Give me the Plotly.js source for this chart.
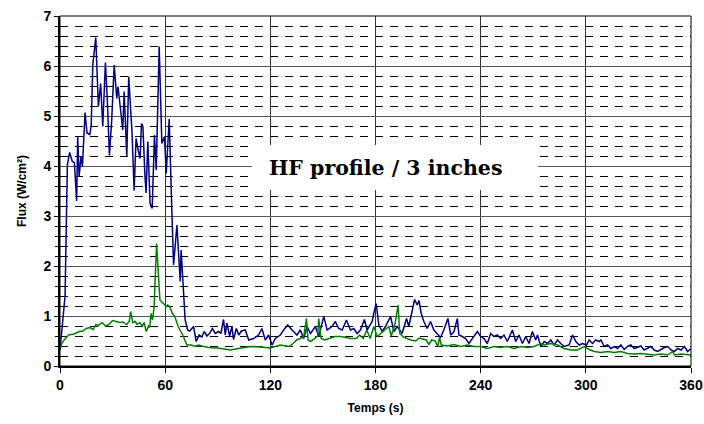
<!DOCTYPE html>
<html>
<head>
<meta charset="utf-8">
<script src="https://cdn.plot.ly/plotly-3.0.1.min.js"></script>
<style>html,body{margin:0;padding:0;background:#fff;}#chart{width:704px;height:424px;}</style>
</head>
<body>
<div id="chart"></div>
<script>
// Blue series (upper profile)
var blueTime = [0, 2.9, 4.2, 5.5, 7.0, 8.2, 9.5, 10.1, 10.9, 12, 12.8, 14.3, 15.4, 17, 17.8, 18.7, 20.4, 21.9, 23.2, 24.4, 25.9, 27, 28.2, 29.5, 30.9, 32.4, 33.1, 34.7, 35.8, 36.6, 38.1, 39.2, 40.4, 41.1, 42.3, 43.4, 44.6, 45.7, 46.5, 47.3, 48.4, 49.1, 50.1, 51.4, 52.6, 53.9, 54.9, 56.6, 58.1, 59.6, 60.6, 62.3, 63.8, 64.8, 66.7, 68.6, 69.1, 71.4, 72.8, 74, 76.2, 77.7, 79.4, 80.9, 82.3, 83.8, 85.3, 86.9, 88.6, 90.5, 91.8, 93.3, 94.3, 95.2, 96.8, 98.1, 99, 100.6, 102, 103.5, 105.7, 107.7, 110.5, 113.3, 115.2, 117.1, 119, 121, 122.9, 125.7, 127.6, 129.9, 132.4, 135.2, 137.1, 139, 141, 142.9, 145.7, 147.6, 150.5, 152.4, 155.2, 157.1, 159, 161, 163.4, 165.7, 167.6, 169.5, 171.4, 173.7, 175.2, 178.1, 179, 180.4, 181.9, 183.8, 185.7, 188.6, 190.5, 192.4, 195.2, 197.7, 199, 200.4, 202.3, 203.8, 204.8, 206.1, 207.6, 209.5, 211.4, 213.3, 215.6, 217.1, 219, 221.3, 222.9, 224.8, 226.7, 227.6, 229.5, 231.4, 233.3, 236.2, 238.1, 240, 241.9, 243.8, 245.7, 247.6, 249.5, 251.4, 253.3, 255.2, 258.1, 260, 261.9, 263.8, 265.7, 267.6, 269.5, 271.4, 272.4, 274.3, 276.2, 278.1, 280, 281.9, 283.8, 285.7, 287.6, 290.5, 292.4, 294.3, 296.2, 298.1, 300.4, 301.9, 303.8, 305.7, 307.6, 308.6, 310.5, 312.4, 314.3, 316.2, 318.1, 320, 321.9, 323.8, 325.7, 327.6, 329.5, 331.4, 333.3, 335.2, 337.1, 339, 341, 342.9, 344.8, 346.7, 348.6, 350.5, 352.4, 354.3, 356.2, 358.1, 360];
var blueFlux = [0.32, 1.4, 4.02, 4.27, 4.09, 4.07, 3.3, 4.58, 3.79, 4.19, 3.99, 5.07, 4.66, 4.63, 4.8, 6.02, 6.57, 5.19, 5.65, 4.79, 6.07, 5.32, 4.21, 4.92, 6.02, 5.35, 5.59, 5.12, 4.72, 5.49, 4.19, 5.79, 5.19, 4.66, 3.51, 4.55, 4.32, 4.15, 4.85, 4.79, 3.85, 3.46, 4.49, 3.25, 3.15, 4.62, 3.92, 6.39, 4.45, 4.59, 3.85, 4.94, 3.12, 2.02, 2.82, 1.69, 2.32, 0.92, 0.72, 0.7, 0.79, 0.49, 0.62, 0.58, 0.69, 0.6, 0.65, 0.75, 0.65, 0.69, 0.65, 0.93, 0.62, 0.86, 0.6, 0.79, 0.53, 0.75, 0.62, 0.7, 0.72, 0.52, 0.55, 0.62, 0.75, 0.52, 0.62, 0.42, 0.55, 0.62, 0.72, 0.82, 0.72, 0.62, 0.72, 0.55, 0.79, 0.65, 0.79, 0.59, 0.99, 0.72, 0.79, 0.89, 0.75, 0.72, 0.92, 0.72, 0.75, 0.65, 0.72, 0.93, 0.72, 0.89, 1.05, 1.25, 0.82, 0.69, 0.79, 0.99, 0.69, 0.79, 0.65, 0.95, 0.79, 1.05, 1.33, 1.22, 1.31, 1.05, 0.89, 0.75, 0.89, 0.72, 0.62, 0.57, 0.72, 0.95, 0.62, 0.69, 0.95, 0.62, 0.59, 0.55, 0.45, 0.59, 0.69, 0.59, 0.55, 0.45, 0.65, 0.59, 0.62, 0.55, 0.62, 0.49, 0.72, 0.49, 0.62, 0.45, 0.59, 0.45, 0.69, 0.52, 0.62, 0.39, 0.49, 0.45, 0.52, 0.42, 0.52, 0.45, 0.39, 0.42, 0.62, 0.49, 0.42, 0.45, 0.42, 0.52, 0.45, 0.52, 0.49, 0.52, 0.39, 0.42, 0.35, 0.39, 0.35, 0.42, 0.33, 0.39, 0.42, 0.35, 0.37, 0.4, 0.32, 0.35, 0.39, 0.32, 0.29, 0.33, 0.37, 0.39, 0.32, 0.29, 0.35, 0.32, 0.39, 0.29, 0.35];

// Green series (lower profile)
var greenTime = [0, 1, 3, 5, 8, 11, 13, 15, 17, 19, 20.5, 22, 24, 26, 28, 30, 32, 34, 36, 38, 39.5, 40.3, 41.5, 43, 44, 45.5, 47, 48, 49.2, 50.5, 51.2, 51.9, 52.8, 53.7, 55.1, 56.2, 57, 59, 60.7, 61.4, 62.5, 64.2, 65.5, 67.4, 69, 70, 72.4, 75, 77, 79, 82, 85, 90, 97, 102, 105, 108.6, 114, 120, 125.7, 131, 133, 135, 137, 139, 140.6, 141.5, 143, 145, 147, 147.6, 149, 151, 154, 157, 160, 163, 166, 169, 171, 173, 175, 177, 179, 181, 184, 187.6, 189, 191, 192.9, 193.8, 196, 198, 200, 203, 205, 207, 209, 210.5, 212, 214, 215.5, 216.5, 217.5, 220.9, 224.8, 228.6, 232.4, 236.2, 240, 243.8, 247.6, 251.4, 255.2, 259, 262.9, 266.7, 270.5, 274.3, 276.2, 280, 283.8, 287.6, 291.4, 295.2, 299, 301.9, 304.8, 308.6, 312.4, 316.2, 320, 323.8, 327.6, 331.4, 335.2, 339, 342.9, 346.7, 349.5, 350.5, 354.3, 358.1, 360];
var greenFlux = [0.32, 0.45, 0.55, 0.62, 0.64, 0.69, 0.7, 0.75, 0.77, 0.73, 0.83, 0.81, 0.87, 0.8, 0.83, 0.91, 0.89, 0.87, 0.88, 0.83, 0.89, 1.09, 0.87, 0.89, 0.83, 0.87, 0.8, 0.87, 0.69, 0.8, 0.77, 1.05, 0.92, 1.19, 2.45, 1.85, 1.32, 1.25, 1.19, 1.22, 1.19, 1.05, 0.99, 0.79, 0.69, 0.62, 0.42, 0.42, 0.39, 0.42, 0.39, 0.37, 0.36, 0.32, 0.35, 0.37, 0.39, 0.38, 0.36, 0.42, 0.39, 0.45, 0.52, 0.55, 0.58, 0.95, 0.52, 0.49, 0.55, 0.6, 0.95, 0.55, 0.52, 0.55, 0.59, 0.59, 0.57, 0.55, 0.55, 0.62, 0.55, 0.72, 0.55, 0.79, 0.59, 0.69, 0.79, 0.6, 0.82, 1.22, 0.65, 0.58, 0.55, 0.52, 0.5, 0.56, 0.54, 0.52, 0.43, 0.52, 0.5, 0.39, 0.57, 0.42, 0.4, 0.43, 0.39, 0.42, 0.39, 0.39, 0.35, 0.39, 0.37, 0.39, 0.35, 0.39, 0.37, 0.39, 0.45, 0.42, 0.45, 0.42, 0.35, 0.32, 0.32, 0.39, 0.33, 0.29, 0.27, 0.29, 0.27, 0.29, 0.25, 0.24, 0.25, 0.24, 0.22, 0.24, 0.22, 0.29, 0.22, 0.24, 0.22, 0.22];

var xTickValues = [0, 60, 120, 180, 240, 300, 360];
var yTickValues = [0, 1, 2, 3, 4, 5, 6, 7];
var chartLabel = "HF profile / 3 inches";
var xTitle = "Temps (s)";
var yTitle = "Flux (W/cm²)";

var traces = [
  {x: blueTime, y: blueFlux, type: 'scatter', mode: 'lines', line: {color: '#000080', width: 1.5}, hoverinfo: 'skip'},
  {x: greenTime, y: greenFlux, type: 'scatter', mode: 'lines', line: {color: '#008000', width: 1.5}, hoverinfo: 'skip'}
];

var sansFam = 'Liberation Sans';
var tickFont = {family: sansFam, size: 14, color: '#000', weight: 700};

var layout = {
  width: 704, height: 424,
  margin: {l: 60, r: 13, t: 16, b: 58},
  paper_bgcolor: '#fff', plot_bgcolor: '#fff',
  showlegend: false,
  xaxis: {
    range: [0, 360], tickvals: xTickValues, ticktext: xTickValues.map(function(v){return '<b>' + v + '</b>';}),
    showgrid: true, gridcolor: '#333', gridwidth: 1,
    zeroline: false, showline: true, linecolor: '#000', linewidth: 2,
    ticks: 'outside', ticklen: 5, tickcolor: '#000', tickwidth: 1,
    tickfont: tickFont,
    title: {text: '<b>' + xTitle + '</b>', font: {family: sansFam, size: 12, color: '#000'}, standoff: 12}
  },
  yaxis: {
    range: [0, 7], tickvals: yTickValues, ticktext: yTickValues.map(function(v){return '<b>' + v + '</b>';}),
    showgrid: true, gridcolor: '#555', gridwidth: 1,
    zeroline: false, showline: true, linecolor: '#000', linewidth: 2,
    ticks: 'outside', ticklen: 4, tickcolor: '#000', tickwidth: 1,
    tickfont: tickFont,
    minor: {dtick: 0.2, showgrid: true, gridcolor: '#000', gridwidth: 1, griddash: '8px,7px', ticks: 'outside', ticklen: 3, tickcolor: '#000'},
    title: {text: '<b>' + yTitle + '</b>', font: {family: sansFam, size: 12, color: '#000'}, standoff: 14}
  },
  shapes: [
    {type: 'rect', xref: 'paper', yref: 'paper', x0: 0, x1: 1, y0: 0, y1: 1, line: {color: '#000', width: 1}, layer: 'above'}
  ],
  annotations: [
    {text: ' ', xref: 'paper', yref: 'paper', x: 0.531, y: 0.567, xanchor: 'center', yanchor: 'middle', showarrow: false,
     width: 286, height: 45, bgcolor: '#fff', borderpad: 0, borderwidth: 0},
    {text: chartLabel, xref: 'paper', yref: 'paper', x: 0.5166, y: 0.567, xanchor: 'center', yanchor: 'middle', showarrow: false,
     font: {family: 'DejaVu Serif', size: 20.5, color: '#000', weight: 'bold'}}
  ]
};

Plotly.newPlot('chart', traces, layout, {staticPlot: true, displayModeBar: false});
</script>
</body>
</html>
